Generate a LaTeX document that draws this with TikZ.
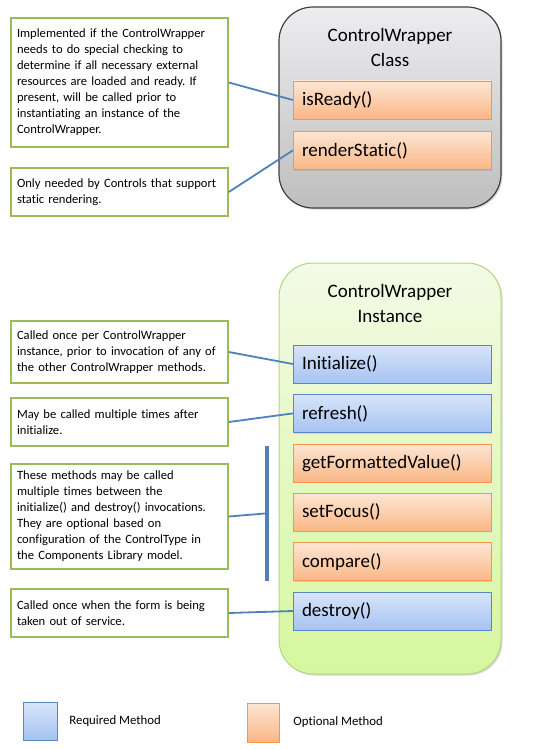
\documentclass[tikz,border=0pt]{standalone}
\usepackage{fontspec}
\setmainfont[Ligatures=CommonOff]{Carlito}
\frenchspacing
\usetikzlibrary{positioning,shadows}
\definecolor{notegreen}{HTML}{9BBB59}
\definecolor{linkblue}{HTML}{4F81BD}
\definecolor{optline}{HTML}{F79646}
\definecolor{opttop}{HTML}{FDE6D3}
\definecolor{optbot}{HTML}{FAB786}
\definecolor{reqline}{HTML}{5B86C5}
\definecolor{reqtop}{HTML}{D8E5F9}
\definecolor{reqbot}{HTML}{A6C3F2}
\definecolor{grytop}{HTML}{EDEDF0}
\definecolor{grybot}{HTML}{BEBEBE}
\definecolor{grnline}{HTML}{B3D67F}
\definecolor{grntop}{HTML}{F3FAE6}
\definecolor{grnbot}{HTML}{D6F79E}

\begin{document}
\begin{tikzpicture}[x=1pt, y=1pt,
    note/.style={draw=notegreen, line width=1.6pt, fill=white, text width=205pt,
        inner xsep=6pt, align=left, font=\fontsize{12.6}{16}\selectfont},
    method/.style={text width=180pt, inner xsep=9pt, minimum height=38pt, align=left,
        font=\fontsize{19}{23}\selectfont, drop shadow={shadow xshift=1pt, shadow yshift=-1.2pt, opacity=.25}},
    optm/.style={method, draw=optline, top color=opttop, bottom color=optbot},
    reqm/.style={method, draw=reqline, top color=reqtop, bottom color=reqbot},
    holder/.style={rounded corners=34pt, minimum width=222pt,
        drop shadow={shadow xshift=1.5pt, shadow yshift=-1.5pt, opacity=.3}},
    title/.style={align=center, font=\fontsize{19}{25}\selectfont},
    link/.style={draw=linkblue, line width=1.8pt},
    legend/.style={inner sep=0pt, font=\fontsize{12.8}{16}\selectfont}]
    \useasboundingbox (0,0) rectangle (548,-749);

    % class side
    \node[holder, draw=black!75, line width=1.2pt, top color=grytop, bottom color=grybot,
        minimum height=201pt] (cls) at (390,-107.5) {};
    \node[title] (clstitle) at (390,-47) {ControlWrapper\\Class};
    \node[optm] (isready) at (392,-100) {isReady()};
    \node[optm, below=12pt of isready] (render) {renderStatic()};

    % instance side
    \node[holder, draw=grnline, line width=1pt, top color=grntop, bottom color=grnbot,
        minimum height=411pt] (inst) at (390,-468.5) {};
    \node[title] (insttitle) at (390,-303) {ControlWrapper\\Instance};
    \node[reqm] (init) at (392,-364) {Initialize()};
    \node[reqm, below=11pt of init] (refresh) {refresh()};
    \node[optm, below=11pt of refresh] (getfv) {getFormattedValue()};
    \node[optm, below=11pt of getfv] (focus) {setFocus()};
    \node[optm, below=11pt of focus] (compare) {compare()};
    \node[reqm, below=11pt of compare] (destroy) {destroy()};
    \node[fill=linkblue, inner sep=0pt, minimum width=4pt, minimum height=135pt] (bar) at (267,-513.5) {};

    % notes
    \node[note, minimum height=129pt] (n1) at (119.5,-82.5) {Implemented if the ControlWrapper\\
        needs to do special checking to\\ determine if all necessary external\\
        resources are loaded and ready. If\\ present, will be called prior to\\
        instantiating an instance of the\\ ControlWrapper.};
    \node[note, minimum height=48pt] (n2) at (119.5,-192) {Only needed by Controls that support\\ static rendering.};
    \node[note, minimum height=62pt] (n3) at (119.5,-352) {Called once per ControlWrapper\\
        instance, prior to invocation of any of\\ the other ControlWrapper methods.};
    \node[note, minimum height=48pt] (n4) at (119.5,-422) {May be called multiple times after\\ initialize.};
    \node[note, minimum height=105pt] (n5) at (119.5,-516.5) {These methods may be called\\
        multiple times between the\\ initialize() and destroy() invocations.\\
        They are optional based on\\ configuration of the ControlType in\\
        the Components Library model.};
    \node[note, minimum height=48pt] (n6) at (119.5,-613) {Called once when the form is being\\ taken out of service.};

    \draw[link] (n1.east) -- (isready.west);
    \draw[link] (n2.east) -- (render.west);
    \draw[link] (n3.east) -- (init.west);
    \draw[link] (n4.east) -- (refresh.west);
    \draw[link] (n5.east) -- (bar.west);
    \draw[link] (n6.east) -- (destroy.west);

    % legend
    \node[reqm, text width=16pt] (keyreq) at (40,-721) {};
    \node[legend, right=12pt of keyreq] (keyreqtxt) {Required Method};
    \node[optm, text width=14pt, minimum height=39pt] (keyopt) at (263,-722.5) {};
    \node[legend, right=14pt of keyopt] (keyopttxt) {Optional Method};
\end{tikzpicture}
\end{document}
